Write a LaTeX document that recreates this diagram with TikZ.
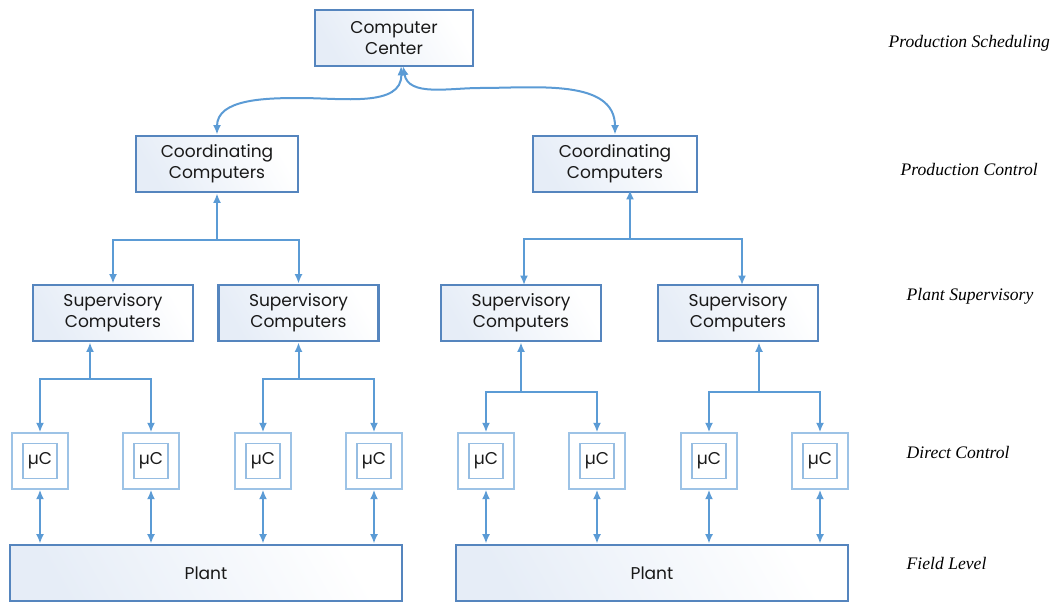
\documentclass[tikz,border=0pt]{standalone}
\usepackage{fontspec}
\setmainfont{Poppins}
\newfontfamily\levelfont{Liberation Serif}
\usetikzlibrary{arrows.meta}
\definecolor{boxblue}{HTML}{5585BE}
\definecolor{arrowblue}{HTML}{5B9BD5}
\definecolor{mcblue}{HTML}{9DC3E6}
\definecolor{shadeblue}{HTML}{E6EDF7}
\tikzset{
  unitbox/.style={draw=boxblue, line width=2.2pt, align=center, inner sep=0pt,
    left color=shadeblue, right color=white, shading angle=120,
    font=\fontsize{12.8}{16}\selectfont, text=black!90},
  mcouter/.style={draw=mcblue, line width=1.1pt, fill=white,
    minimum width=42pt, minimum height=42pt, inner sep=0pt},
  mcinner/.style={draw=mcblue!90!boxblue, line width=0.9pt, fill=white,
    minimum width=25.5pt, minimum height=26pt, inner sep=0pt,
    font=\fontsize{12.8}{14}\selectfont, text=black!90},
  link/.style={draw=arrowblue, line width=1.5pt,
    arrows={-Latex[length=7pt,width=6pt]}},
  duplex/.style={link, arrows={Latex[length=7pt,width=6pt]-Latex[length=7pt,width=6pt]}},
  level/.style={anchor=west, font=\levelfont\itshape\fontsize{13.2}{15}\selectfont, text=black}
}
\begin{document}
\begin{tikzpicture}[x=0.75pt, y=-0.75pt]
\useasboundingbox (0,0) rectangle (1057,603);

% top level
\node[unitbox, minimum width=118.5pt, minimum height=42pt] (cc) at (394,38) {Computer\\Center};

% coordinating level
\node[unitbox, minimum width=121.5pt, minimum height=42pt] (cl) at (217,164) {Coordinating\\Computers};
\node[unitbox, minimum width=123pt, minimum height=42pt] (cr) at (615,164) {Coordinating\\Computers};

% supervisory level
\foreach \n/\x in {s1/113, s2/298.5, s3/521, s4/738}
  \node[unitbox, minimum width=120pt, minimum height=42pt] (\n) at (\x,313) {Supervisory\\Computers};

% direct control level
\foreach \n/\x in {m1/40, m2/151, m3/263, m4/374, m5/486, m6/597, m7/709, m8/820} {
  \node[mcouter] (\n) at (\x,461) {};
  \node[mcinner] (\n i) at (\x,461) {µC};
}

% field level
\node[unitbox, minimum width=294pt, minimum height=42pt] (pl) at (206,573) {Plant};
\node[unitbox, minimum width=294pt, minimum height=42pt] (pr) at (652,573) {Plant};

% level captions
\node[level] (l1) at (884,43) {Production Scheduling};
\node[level] (l2) at (896,169) {Production Control};
\node[level] (l3) at (902,296) {Plant Supervisory};
\node[level] (l4) at (902,452) {Direct Control};
\node[level] (l5) at (902,563) {Field Level};

% computer center to coordinating computers
\coordinate (ccl) at (401,66);
\coordinate (ccr) at (403,66);
\coordinate (hl) at (300,98);
\coordinate (hr) at (480,88);
\draw[duplex] (ccl) to[out=-88,in=0] (hl) to[out=180,in=90] (cl.north);
\draw[duplex] (ccr) to[out=-80,in=180] (hr) to[out=0,in=90] (cr.north);

% coordinating to supervisory buses
\coordinate (b1) at (217,240);
\draw[duplex] (cl.south) -- (b1) -| (s1.north);
\draw[link] (b1) -| (s2.north);
\coordinate (b2t) at (630,190);
\coordinate (b2) at (630,239);
\draw[duplex] (b2t) -- (b2) -| (524,285);
\draw[link] (b2) -| (742,285);

% supervisory to direct control buses
\foreach \s/\t/\y/\a/\b in {s1/90/379/m1/m2, s2/298.5/379/m3/m4, s3/521/392/m5/m6, s4/759/392/m7/m8} {
  \coordinate (\s bus) at (\t,\y);
  \draw[duplex] (\s.south -| \s bus) -- (\s bus) -| (\a.north);
  \draw[link] (\s bus) -| (\b.north);
}

% direct control to plant
\foreach \m/\p in {m1/pl, m2/pl, m3/pl, m4/pl, m5/pr, m6/pr, m7/pr, m8/pr}
  \draw[duplex] (\m.south) -- (\m.south |- \p.north);
\end{tikzpicture}
\end{document}
